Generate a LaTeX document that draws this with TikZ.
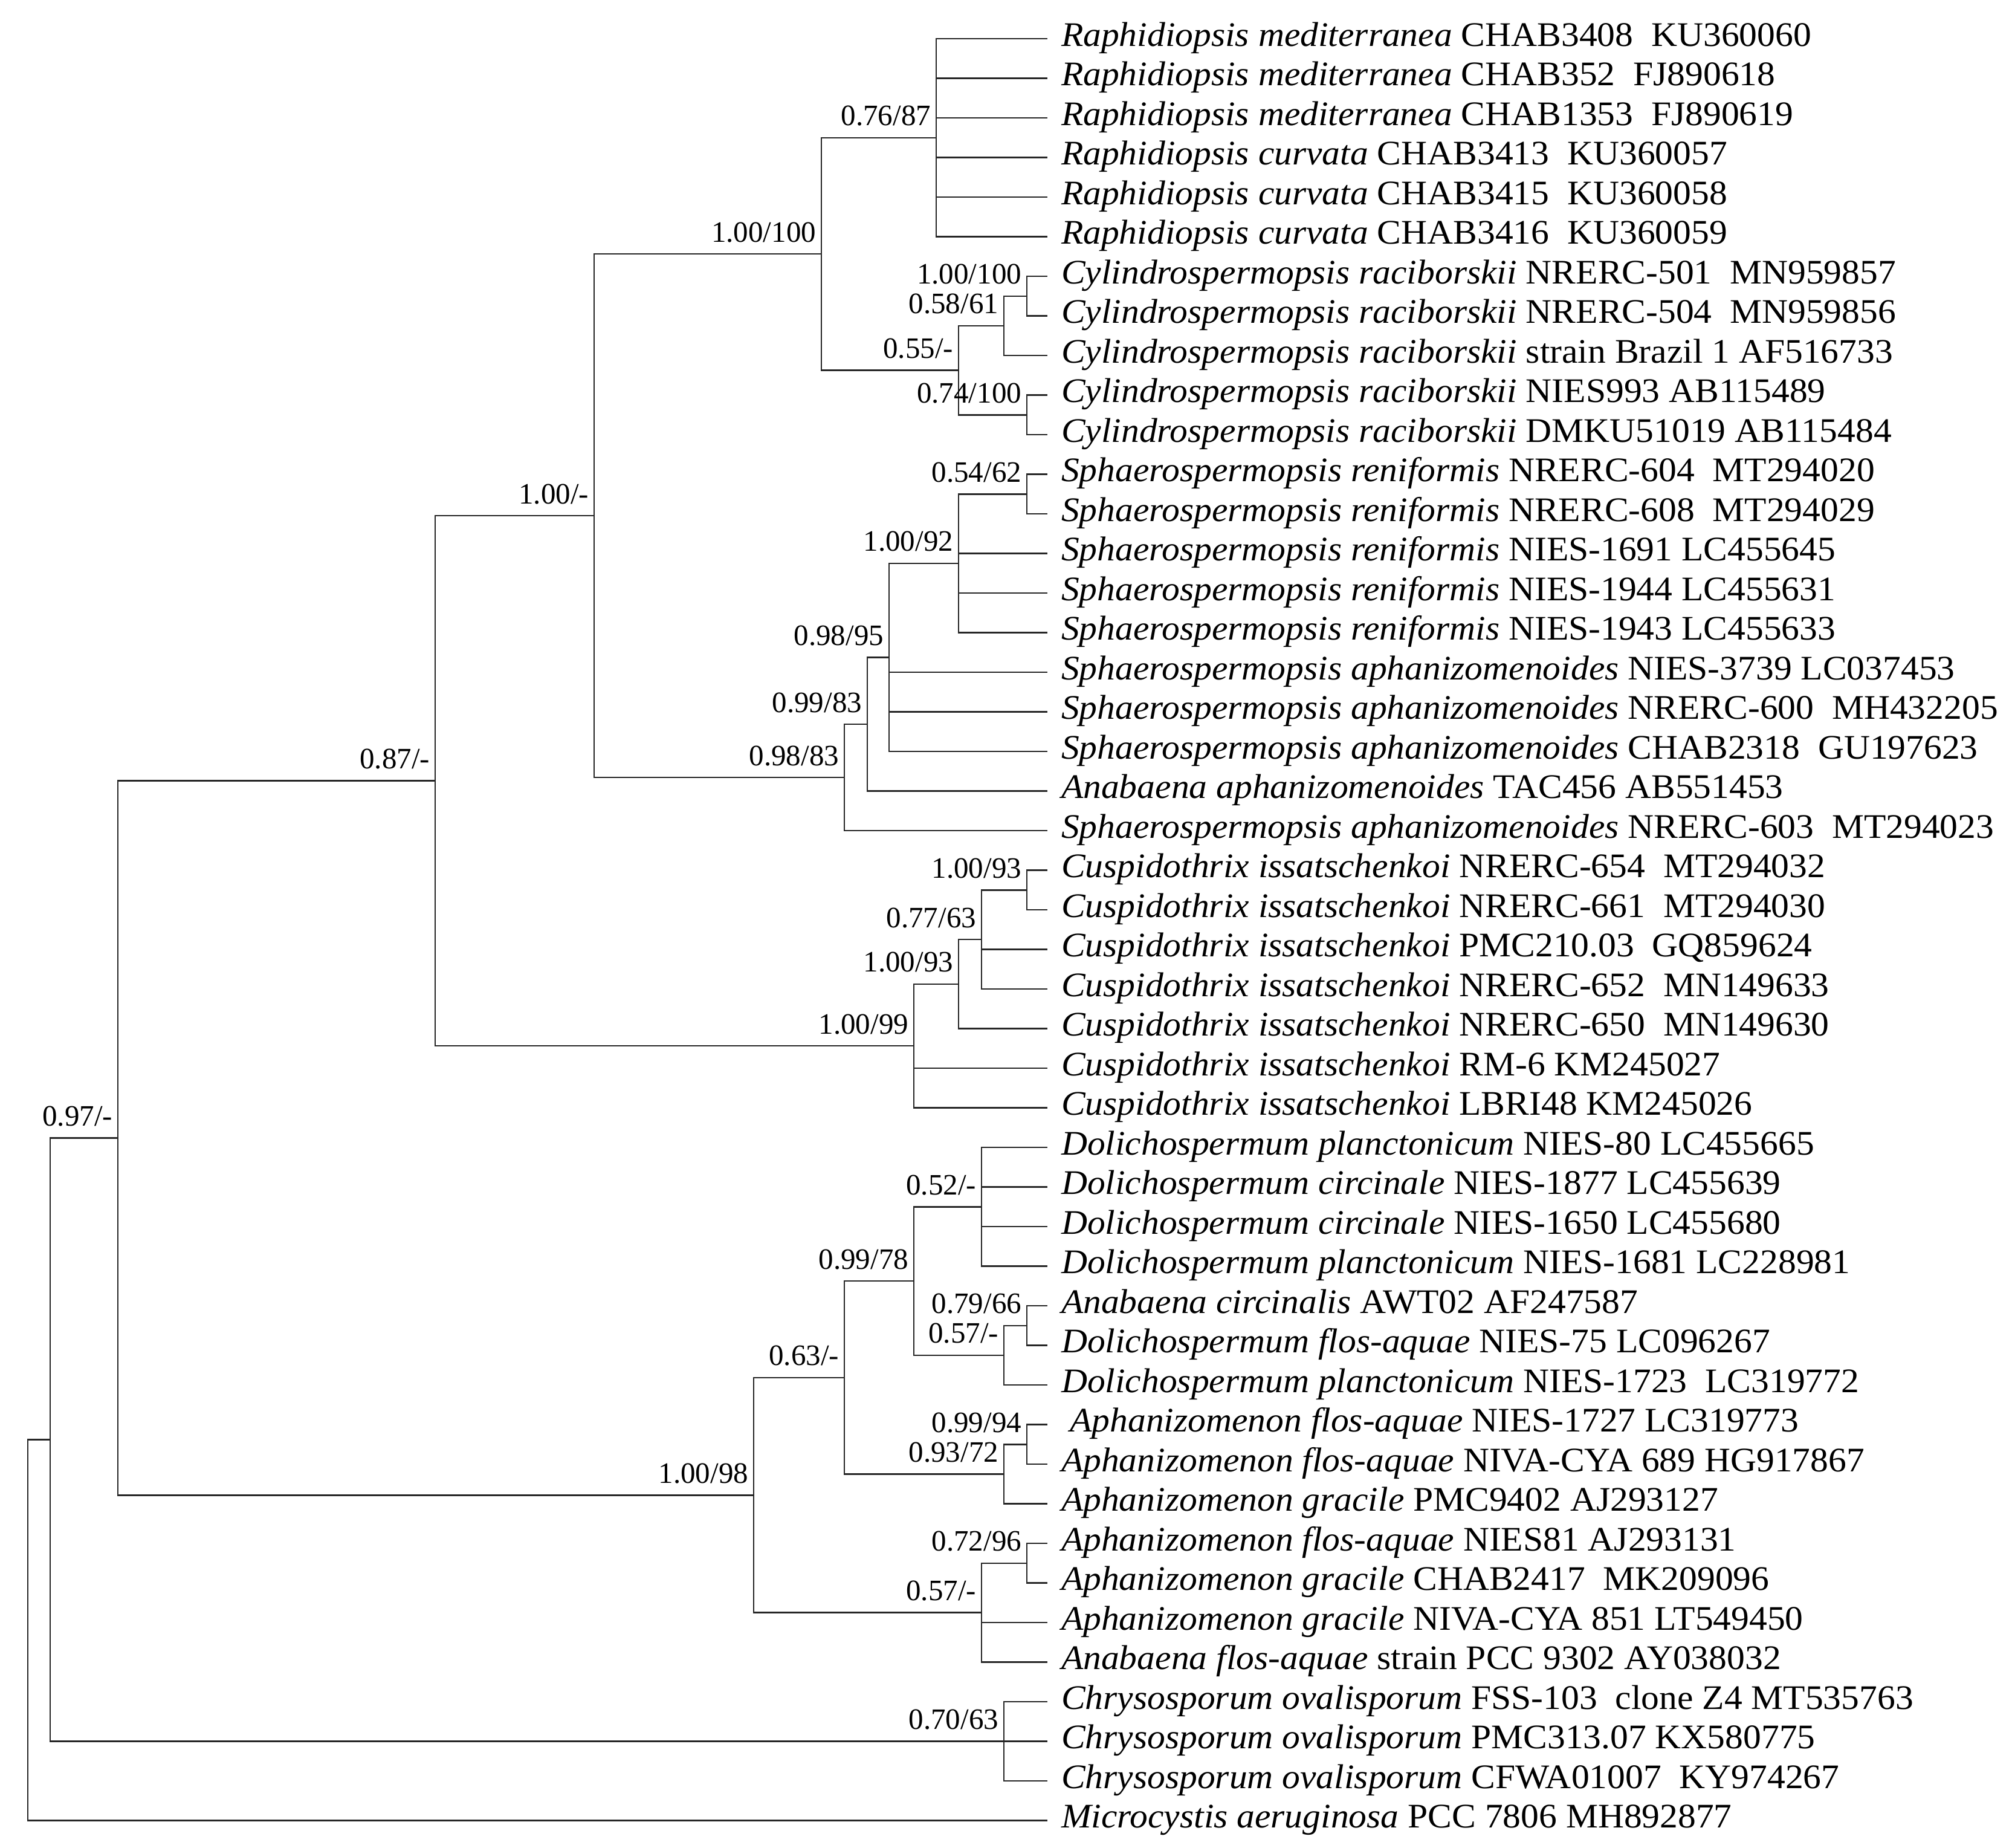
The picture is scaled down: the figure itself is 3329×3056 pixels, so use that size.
\documentclass[tikz,border=0pt]{standalone}
\usepackage{fontspec}
\setmainfont{Liberation Serif}
\newfontfamily\taxonfont[FakeStretch=1.045]{Liberation Serif}
\usetikzlibrary{positioning}
\tikzstyle{branch}=[line width=.5pt,black!85]
\tikzstyle{taxon}=[anchor=west,inner xsep=4.4pt,inner ysep=0pt,text height=8pt,text depth=3.2pt,font=\fontsize{11.4}{13}\taxonfont]
\tikzstyle{support}=[inner sep=0pt,text depth=0pt,font=\fontsize{9.8}{11}\selectfont]
\begin{document}
\begin{tikzpicture}[x=.2pt,y=-.2pt]
	\useasboundingbox (0,0) rectangle (3329,3056);
	\node[taxon] (l1) at (1733,64) {\textit{Raphidiopsis mediterranea} CHAB3408\ \ KU360060};
	\node[taxon] (l2) at (1733,129.5) {\textit{Raphidiopsis mediterranea} CHAB352\ \ FJ890618};
	\node[taxon] (l3) at (1733,195) {\textit{Raphidiopsis mediterranea} CHAB1353\ \ FJ890619};
	\node[taxon] (l4) at (1733,260.5) {\textit{Raphidiopsis curvata} CHAB3413\ \ KU360057};
	\node[taxon] (l5) at (1733,326) {\textit{Raphidiopsis curvata} CHAB3415\ \ KU360058};
	\node[taxon] (l6) at (1733,391.5) {\textit{Raphidiopsis curvata} CHAB3416\ \ KU360059};
	\node[taxon] (l7) at (1733,457) {\textit{Cylindrospermopsis raciborskii} NRERC-501\ \ MN959857};
	\node[taxon] (l8) at (1733,522.5) {\textit{Cylindrospermopsis raciborskii} NRERC-504\ \ MN959856};
	\node[taxon] (l9) at (1733,588) {\textit{Cylindrospermopsis raciborskii} strain Brazil 1 AF516733};
	\node[taxon] (l10) at (1733,653.5) {\textit{Cylindrospermopsis raciborskii} NIES993 AB115489};
	\node[taxon] (l11) at (1733,719) {\textit{Cylindrospermopsis raciborskii} DMKU51019 AB115484};
	\node[taxon] (l12) at (1733,784.5) {\textit{Sphaerospermopsis reniformis} NRERC-604\ \ MT294020};
	\node[taxon] (l13) at (1733,850) {\textit{Sphaerospermopsis reniformis} NRERC-608\ \ MT294029};
	\node[taxon] (l14) at (1733,915.5) {\textit{Sphaerospermopsis reniformis} NIES-1691 LC455645};
	\node[taxon] (l15) at (1733,981) {\textit{Sphaerospermopsis reniformis} NIES-1944 LC455631};
	\node[taxon] (l16) at (1733,1046.5) {\textit{Sphaerospermopsis reniformis} NIES-1943 LC455633};
	\node[taxon] (l17) at (1733,1112) {\textit{Sphaerospermopsis aphanizomenoides} NIES-3739 LC037453};
	\node[taxon] (l18) at (1733,1177.5) {\textit{Sphaerospermopsis aphanizomenoides} NRERC-600\ \ MH432205};
	\node[taxon] (l19) at (1733,1243) {\textit{Sphaerospermopsis aphanizomenoides} CHAB2318\ \ GU197623};
	\node[taxon] (l20) at (1733,1308.5) {\textit{Anabaena aphanizomenoides} TAC456 AB551453};
	\node[taxon] (l21) at (1733,1374) {\textit{Sphaerospermopsis aphanizomenoides} NRERC-603\ \ MT294023};
	\node[taxon] (l22) at (1733,1439.5) {\textit{Cuspidothrix issatschenkoi} NRERC-654\ \ MT294032};
	\node[taxon] (l23) at (1733,1505) {\textit{Cuspidothrix issatschenkoi} NRERC-661\ \ MT294030};
	\node[taxon] (l24) at (1733,1570.5) {\textit{Cuspidothrix issatschenkoi} PMC210.03\ \ GQ859624};
	\node[taxon] (l25) at (1733,1636) {\textit{Cuspidothrix issatschenkoi} NRERC-652\ \ MN149633};
	\node[taxon] (l26) at (1733,1701.5) {\textit{Cuspidothrix issatschenkoi} NRERC-650\ \ MN149630};
	\node[taxon] (l27) at (1733,1767) {\textit{Cuspidothrix issatschenkoi} RM-6 KM245027};
	\node[taxon] (l28) at (1733,1832.5) {\textit{Cuspidothrix issatschenkoi} LBRI48 KM245026};
	\node[taxon] (l29) at (1733,1898) {\textit{Dolichospermum planctonicum} NIES-80 LC455665};
	\node[taxon] (l30) at (1733,1963.5) {\textit{Dolichospermum circinale} NIES-1877 LC455639};
	\node[taxon] (l31) at (1733,2029) {\textit{Dolichospermum circinale} NIES-1650 LC455680};
	\node[taxon] (l32) at (1733,2094.5) {\textit{Dolichospermum planctonicum} NIES-1681 LC228981};
	\node[taxon] (l33) at (1733,2160) {\textit{Anabaena circinalis} AWT02 AF247587};
	\node[taxon] (l34) at (1733,2225.5) {\textit{Dolichospermum flos-aquae} NIES-75 LC096267};
	\node[taxon] (l35) at (1733,2291) {\textit{Dolichospermum planctonicum} NIES-1723\ \ LC319772};
	\node[taxon] (l36) at (1733,2356.5) {\hspace*{.25em}\textit{Aphanizomenon flos-aquae} NIES-1727 LC319773};
	\node[taxon] (l37) at (1733,2422) {\textit{Aphanizomenon flos-aquae} NIVA-CYA 689 HG917867};
	\node[taxon] (l38) at (1733,2487.5) {\textit{Aphanizomenon gracile} PMC9402 AJ293127};
	\node[taxon] (l39) at (1733,2553) {\textit{Aphanizomenon flos-aquae} NIES81 AJ293131};
	\node[taxon] (l40) at (1733,2618.5) {\textit{Aphanizomenon gracile} CHAB2417\ \ MK209096};
	\node[taxon] (l41) at (1733,2684) {\textit{Aphanizomenon gracile} NIVA-CYA 851 LT549450};
	\node[taxon] (l42) at (1733,2749.5) {\textit{Anabaena flos-aquae} strain PCC 9302 AY038032};
	\node[taxon] (l43) at (1733,2815) {\textit{Chrysosporum ovalisporum} FSS-103\ \ clone Z4 MT535763};
	\node[taxon] (l44) at (1733,2880.5) {\textit{Chrysosporum ovalisporum} PMC313.07 KX580775};
	\node[taxon] (l45) at (1733,2946) {\textit{Chrysosporum ovalisporum} CFWA01007\ \ KY974267};
	\node[taxon] (l46) at (1733,3011.5) {\textit{Microcystis aeruginosa} PCC 7806 MH892877};
	\coordinate (raph) at (1549,227.75);
	\coordinate (cylA) at (1699,489.75);
	\coordinate (cylB) at (1661,538.9);
	\coordinate (cylC) at (1699,686.25);
	\coordinate (cyl) at (1586,612.6);
	\coordinate (rc) at (1359,420.2);
	\coordinate (sphA) at (1699,817.25);
	\coordinate (sphB) at (1586,931.9);
	\coordinate (sphC) at (1471,1087.4);
	\coordinate (sphD) at (1435,1198);
	\coordinate (sph) at (1397,1286);
	\coordinate (rcs) at (983,853.1);
	\coordinate (cusA) at (1699,1472.25);
	\coordinate (cusB) at (1624,1554.1);
	\coordinate (cusC) at (1586,1627.8);
	\coordinate (cus) at (1512,1730.2);
	\coordinate (up) at (720,1291.6);
	\coordinate (dolA) at (1624,1996.25);
	\coordinate (dolB) at (1699,2192.75);
	\coordinate (dolC) at (1661,2241.9);
	\coordinate (dol) at (1512,2119.1);
	\coordinate (aphA) at (1699,2389.25);
	\coordinate (aphB) at (1661,2438.4);
	\coordinate (da) at (1397,2278.75);
	\coordinate (aphC) at (1699,2585.75);
	\coordinate (aphD) at (1624,2667.6);
	\coordinate (low) at (1247,2473.2);
	\coordinate (ing) at (195,1882.4);
	\coordinate (chr) at (1661,2880.5);
	\coordinate (ig) at (83,2381.5);
	\coordinate (root) at (46,2696.5);
	\foreach \c in {l1,l2,l3,l4,l5,l6} \draw[branch] (raph) |- (\c);
	\foreach \c in {l7,l8} \draw[branch] (cylA) |- (\c);
	\foreach \c in {cylA,l9} \draw[branch] (cylB) |- (\c);
	\foreach \c in {l10,l11} \draw[branch] (cylC) |- (\c);
	\foreach \c in {cylB,cylC} \draw[branch] (cyl) |- (\c);
	\foreach \c in {raph,cyl} \draw[branch] (rc) |- (\c);
	\foreach \c in {l12,l13} \draw[branch] (sphA) |- (\c);
	\foreach \c in {sphA,l14,l15,l16} \draw[branch] (sphB) |- (\c);
	\foreach \c in {sphB,l17,l18,l19} \draw[branch] (sphC) |- (\c);
	\foreach \c in {sphC,l20} \draw[branch] (sphD) |- (\c);
	\foreach \c in {sphD,l21} \draw[branch] (sph) |- (\c);
	\foreach \c in {rc,sph} \draw[branch] (rcs) |- (\c);
	\foreach \c in {l22,l23} \draw[branch] (cusA) |- (\c);
	\foreach \c in {cusA,l24,l25} \draw[branch] (cusB) |- (\c);
	\foreach \c in {cusB,l26} \draw[branch] (cusC) |- (\c);
	\foreach \c in {cusC,l27,l28} \draw[branch] (cus) |- (\c);
	\foreach \c in {rcs,cus} \draw[branch] (up) |- (\c);
	\foreach \c in {l29,l30,l31,l32} \draw[branch] (dolA) |- (\c);
	\foreach \c in {l33,l34} \draw[branch] (dolB) |- (\c);
	\foreach \c in {dolB,l35} \draw[branch] (dolC) |- (\c);
	\foreach \c in {dolA,dolC} \draw[branch] (dol) |- (\c);
	\foreach \c in {l36,l37} \draw[branch] (aphA) |- (\c);
	\foreach \c in {aphA,l38} \draw[branch] (aphB) |- (\c);
	\foreach \c in {dol,aphB} \draw[branch] (da) |- (\c);
	\foreach \c in {l39,l40} \draw[branch] (aphC) |- (\c);
	\foreach \c in {aphC,l41,l42} \draw[branch] (aphD) |- (\c);
	\foreach \c in {da,aphD} \draw[branch] (low) |- (\c);
	\foreach \c in {up,low} \draw[branch] (ing) |- (\c);
	\foreach \c in {l43,l44,l45} \draw[branch] (chr) |- (\c);
	\foreach \c in {ing,chr} \draw[branch] (ig) |- (\c);
	\foreach \c in {ig,l46} \draw[branch] (root) |- (\c);
	\node[support,above left=3.8pt and 1.6pt of raph] (b-raph) {0.76/87};
	\node[support,above left=3.8pt and 1.6pt of cylA] (b-cylA) {1.00/100};
	\node[support,above left=3.8pt and 1.6pt of cylB] (b-cylB) {0.58/61};
	\node[support,above left=3.8pt and 1.6pt of cylC] (b-cylC) {0.74/100};
	\node[support,above left=3.8pt and 1.6pt of cyl] (b-cyl) {0.55/-};
	\node[support,above left=3.8pt and 1.6pt of rc] (b-rc) {1.00/100};
	\node[support,above left=3.8pt and 1.6pt of sphA] (b-sphA) {0.54/62};
	\node[support,above left=3.8pt and 1.6pt of sphB] (b-sphB) {1.00/92};
	\node[support,above left=3.8pt and 1.6pt of sphC] (b-sphC) {0.98/95};
	\node[support,above left=3.8pt and 1.6pt of sphD] (b-sphD) {0.99/83};
	\node[support,above left=3.8pt and 1.6pt of sph] (b-sph) {0.98/83};
	\node[support,above left=3.8pt and 1.6pt of rcs] (b-rcs) {1.00/-};
	\node[support,above left=3.8pt and 1.6pt of cusA] (b-cusA) {1.00/93};
	\node[support,above left=3.8pt and 1.6pt of cusB] (b-cusB) {0.77/63};
	\node[support,above left=3.8pt and 1.6pt of cusC] (b-cusC) {1.00/93};
	\node[support,above left=3.8pt and 1.6pt of cus] (b-cus) {1.00/99};
	\node[support,above left=3.8pt and 1.6pt of up] (b-up) {0.87/-};
	\node[support,above left=3.8pt and 1.6pt of dolA] (b-dolA) {0.52/-};
	\node[support,above left=3.8pt and 1.6pt of dolB] (b-dolB) {0.79/66};
	\node[support,above left=3.8pt and 1.6pt of dolC] (b-dolC) {0.57/-};
	\node[support,above left=3.8pt and 1.6pt of dol] (b-dol) {0.99/78};
	\node[support,above left=3.8pt and 1.6pt of aphA] (b-aphA) {0.99/94};
	\node[support,above left=3.8pt and 1.6pt of aphB] (b-aphB) {0.93/72};
	\node[support,above left=3.8pt and 1.6pt of da] (b-da) {0.63/-};
	\node[support,above left=3.8pt and 1.6pt of aphC] (b-aphC) {0.72/96};
	\node[support,above left=3.8pt and 1.6pt of aphD] (b-aphD) {0.57/-};
	\node[support,above left=3.8pt and 1.6pt of low] (b-low) {1.00/98};
	\node[support,above left=3.8pt and 1.6pt of ing] (b-ing) {0.97/-};
	\node[support,above left=3.8pt and 1.6pt of chr] (b-chr) {0.70/63};
\end{tikzpicture}
\end{document}
